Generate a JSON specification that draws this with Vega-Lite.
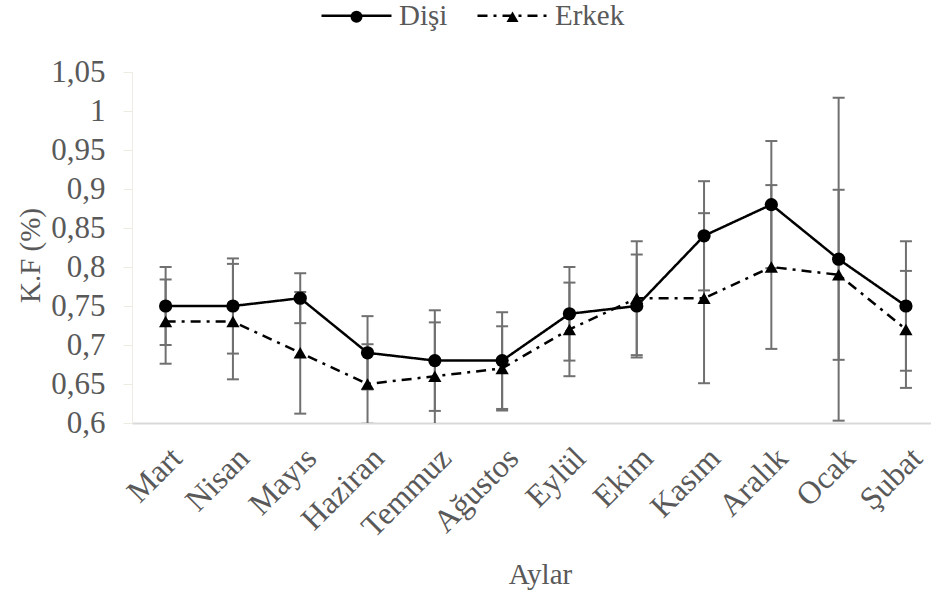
{
  "$schema": "https://vega.github.io/schema/vega-lite/v6.json",
  "autosize": "none",
  "width": 799,
  "height": 351,
  "padding": {"left": 132, "top": 72, "right": 0, "bottom": 176},
  "config": {
    "view": {"stroke": null},
    "font": "Liberation Serif",
    "locale": {"number": {"decimal": ",", "thousands": ".", "grouping": [3], "currency": ["", ""]}},
    "axisY": {
      "labelFontSize": 31, "labelColor": "#595959", "labelPadding": 18, "labelOverlap": false,
      "domainColor": "#eeebe2", "tickColor": "#eeebe2", "tickSize": 9, "grid": false,
      "titleFontSize": 29, "titleFontWeight": "normal", "titleColor": "#595959"
    },
    "axisX": {
      "labelAngle": -45, "labelFontSize": 32, "labelColor": "#595959", "labelPadding": 19, "labelOverlap": false,
      "ticks": false, "domainColor": "#d9d9d9", "domainWidth": 2, "grid": false,
      "titleFontSize": 29, "titleFontWeight": "normal", "titleColor": "#595959"
    }
  },
  "resolve": {"legend": {"shape": "independent", "strokeDash": "independent"}},
  "data": {"values": [
    {"ay": "Mart", "cins": "Dişi", "kf": 0.75, "lo": 0.70, "hi": 0.80},
    {"ay": "Nisan", "cins": "Dişi", "kf": 0.75, "lo": 0.689, "hi": 0.811},
    {"ay": "Mayıs", "cins": "Dişi", "kf": 0.76, "lo": 0.728, "hi": 0.792},
    {"ay": "Haziran", "cins": "Dişi", "kf": 0.69, "lo": 0.643, "hi": 0.737},
    {"ay": "Temmuz", "cins": "Dişi", "kf": 0.68, "lo": 0.6155, "hi": 0.7445},
    {"ay": "Ağustos", "cins": "Dişi", "kf": 0.68, "lo": 0.618, "hi": 0.742},
    {"ay": "Eylül", "cins": "Dişi", "kf": 0.74, "lo": 0.68, "hi": 0.80},
    {"ay": "Ekim", "cins": "Dişi", "kf": 0.75, "lo": 0.684, "hi": 0.816},
    {"ay": "Kasım", "cins": "Dişi", "kf": 0.84, "lo": 0.77, "hi": 0.91},
    {"ay": "Aralık", "cins": "Dişi", "kf": 0.88, "lo": 0.7985, "hi": 0.9615},
    {"ay": "Ocak", "cins": "Dişi", "kf": 0.81, "lo": 0.603, "hi": 1.017},
    {"ay": "Şubat", "cins": "Dişi", "kf": 0.75, "lo": 0.667, "hi": 0.833},
    {"ay": "Mart", "cins": "Erkek", "kf": 0.73, "lo": 0.676, "hi": 0.784},
    {"ay": "Nisan", "cins": "Erkek", "kf": 0.73, "lo": 0.656, "hi": 0.804},
    {"ay": "Mayıs", "cins": "Erkek", "kf": 0.69, "lo": 0.612, "hi": 0.768},
    {"ay": "Haziran", "cins": "Erkek", "kf": 0.65, "lo": 0.599, "hi": 0.701},
    {"ay": "Temmuz", "cins": "Erkek", "kf": 0.66, "lo": 0.591, "hi": 0.729},
    {"ay": "Ağustos", "cins": "Erkek", "kf": 0.67, "lo": 0.616, "hi": 0.724},
    {"ay": "Eylül", "cins": "Erkek", "kf": 0.72, "lo": 0.66, "hi": 0.78},
    {"ay": "Ekim", "cins": "Erkek", "kf": 0.76, "lo": 0.687, "hi": 0.833},
    {"ay": "Kasım", "cins": "Erkek", "kf": 0.76, "lo": 0.651, "hi": 0.869},
    {"ay": "Aralık", "cins": "Erkek", "kf": 0.80, "lo": 0.695, "hi": 0.905},
    {"ay": "Ocak", "cins": "Erkek", "kf": 0.79, "lo": 0.681, "hi": 0.899},
    {"ay": "Şubat", "cins": "Erkek", "kf": 0.72, "lo": 0.645, "hi": 0.795}
  ]},
  "encoding": {
    "x": {
      "field": "ay", "type": "nominal", "sort": null,
      "scale": {"type": "point", "padding": 0.436, "align": 0.573},
      "axis": {"title": "Aylar", "titleX": 408, "titleY": 151, "titleBaseline": "middle", "labelFontSize": 32, "labelAngle": -45}
    }
  },
  "layer": [
    {
      "mark": {"type": "rule", "color": "#707070", "strokeWidth": 2, "clip": true},
      "encoding": {
        "y": {"field": "lo", "type": "quantitative", "scale": {"domain": [0.6, 1.05], "zero": false, "nice": false},
          "axis": {
            "title": "K.F (%)", "titleX": -102, "titleY": 183, "titleBaseline": "middle",
            "values": [0.6, 0.65, 0.7, 0.75, 0.8, 0.85, 0.9, 0.95, 1, 1.05], "format": "~g"
          }},
        "y2": {"field": "hi"}
      }
    },
    {
      "mark": {"type": "tick", "color": "#707070", "thickness": 2, "size": 12, "clip": true, "opacity": 1},
      "encoding": {"y": {"field": "lo", "type": "quantitative", "axis": {
            "title": "K.F (%)", "titleX": -102, "titleY": 183, "titleBaseline": "middle",
            "values": [0.6, 0.65, 0.7, 0.75, 0.8, 0.85, 0.9, 0.95, 1, 1.05], "format": "~g"
          }}}
    },
    {
      "mark": {"type": "tick", "color": "#707070", "thickness": 2, "size": 12, "clip": true, "opacity": 1},
      "encoding": {"y": {"field": "hi", "type": "quantitative", "axis": {
            "title": "K.F (%)", "titleX": -102, "titleY": 183, "titleBaseline": "middle",
            "values": [0.6, 0.65, 0.7, 0.75, 0.8, 0.85, 0.9, 0.95, 1, 1.05], "format": "~g"
          }}}
    },
    {
      "mark": {"type": "line", "color": "black", "strokeWidth": 2.5},
      "encoding": {
        "y": {"field": "kf", "type": "quantitative", "axis": {
            "title": "K.F (%)", "titleX": -102, "titleY": 183, "titleBaseline": "middle",
            "values": [0.6, 0.65, 0.7, 0.75, 0.8, 0.85, 0.9, 0.95, 1, 1.05], "format": "~g"
          }},
        "detail": {"field": "cins"},
        "strokeDash": {"field": "cins", "type": "nominal", "scale": {"domain": ["Dişi", "Erkek"], "range": [[1, 0], [10, 6, 3, 6]]},
          "legend": {
            "title": null, "orient": "none", "direction": "horizontal",
            "legendX": 188, "legendY": -93, "padding": 0,
            "symbolType": "stroke", "symbolSize": 4900, "symbolStrokeWidth": 2.5, "symbolStrokeColor": "black",
            "labelFontSize": 29, "labelColor": "#595959", "labelOffset": 6, "columnPadding": 24
          }}
      }
    },
    {
      "mark": {"type": "point", "filled": true, "color": "black", "opacity": 1, "size": 175},
      "encoding": {
        "y": {"field": "kf", "type": "quantitative", "axis": {
            "title": "K.F (%)", "titleX": -102, "titleY": 183, "titleBaseline": "middle",
            "values": [0.6, 0.65, 0.7, 0.75, 0.8, 0.85, 0.9, 0.95, 1, 1.05], "format": "~g"
          }},
        "shape": {
          "field": "cins", "type": "nominal",
          "scale": {"domain": ["Dişi", "Erkek"], "range": ["circle", "triangle-up"]},
          "legend": {
            "title": null, "orient": "none", "direction": "horizontal",
            "legendX": 210, "legendY": -70, "padding": 0,
            "symbolSize": 144, "symbolStrokeWidth": 0, "symbolFillColor": "black",
            "labelFontSize": 29, "labelOpacity": 0, "labelOffset": 6, "columnPadding": 72
          }
        }
      }
    }
  ]
}
